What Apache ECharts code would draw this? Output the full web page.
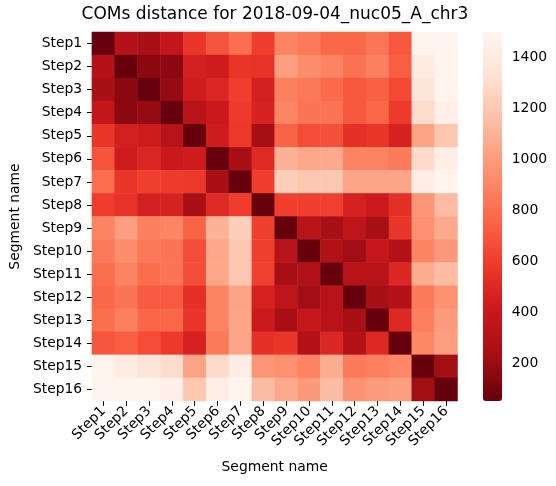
<!DOCTYPE html>
<html>
<head>
<meta charset="utf-8">
<script src="https://cdn.jsdelivr.net/npm/echarts@6/dist/echarts.min.js"></script>
<style>
  html, body { margin: 0; padding: 0; background: #fff; }
  #chart { width: 556px; height: 486px; }
</style>
</head>
<body>
<div id="chart"></div>
<script>
var myChart = echarts.init(document.getElementById('chart'));

// 分段名
var steps = ['Step1', 'Step2', 'Step3', 'Step4', 'Step5', 'Step6', 'Step7', 'Step8',
  'Step9', 'Step10', 'Step11', 'Step12', 'Step13', 'Step14', 'Step15', 'Step16'];

// 距离矩阵, 每行一个 Step
var row1 = [52, 300, 250, 380, 570, 690, 800, 600, 890, 850, 770, 770, 830, 710, 1490, 1495];
var row2 = [300, 52, 160, 160, 450, 430, 560, 550, 1010, 940, 890, 810, 870, 730, 1410, 1490];
var row3 = [250, 160, 52, 190, 430, 490, 610, 450, 870, 840, 780, 710, 740, 650, 1360, 1490];
var row4 = [380, 160, 190, 52, 320, 410, 590, 470, 900, 820, 820, 710, 770, 590, 1300, 1450];
var row5 = [570, 450, 430, 320, 52, 430, 580, 250, 750, 660, 680, 540, 570, 470, 1030, 1190];
var row6 = [690, 430, 490, 410, 430, 52, 250, 510, 1100, 1050, 1060, 890, 890, 850, 1290, 1440];
var row7 = [800, 560, 610, 590, 580, 250, 52, 600, 1230, 1200, 1200, 1040, 1040, 1040, 1435, 1490];
var row8 = [600, 550, 450, 470, 250, 510, 600, 52, 610, 610, 615, 465, 420, 540, 970, 1145];
var row9 = [890, 1010, 870, 900, 750, 1100, 1230, 610, 52, 320, 250, 350, 250, 570, 950, 1060];
var row10 = [850, 940, 840, 820, 660, 1050, 1200, 610, 320, 52, 290, 225, 390, 300, 890, 990];
var row11 = [800, 890, 790, 820, 670, 1050, 1200, 615, 250, 290, 52, 320, 320, 495, 1070, 1150];
var row12 = [770, 820, 720, 715, 535, 890, 1035, 465, 350, 225, 320, 52, 250, 300, 850, 955];
var row13 = [800, 875, 760, 770, 570, 890, 1040, 420, 250, 390, 320, 250, 52, 500, 870, 995];
var row14 = [700, 730, 660, 585, 465, 850, 1040, 540, 570, 300, 495, 300, 500, 52, 910, 1015];
var row15 = [1490, 1410, 1360, 1300, 1030, 1290, 1435, 970, 950, 890, 1070, 850, 870, 910, 52, 220];
var row16 = [1495, 1490, 1490, 1455, 1195, 1440, 1490, 1145, 1060, 990, 1150, 955, 995, 1015, 220, 52];

var rows = [row1, row2, row3, row4, row5, row6, row7, row8,
  row9, row10, row11, row12, row13, row14, row15, row16];

// colorbar 刻度
var barTicks = [200, 400, 600, 800, 1000, 1200, 1400];
var vmin = 52;
var vmax = 1500;

var data = [];
for (let i = 0; i < rows.length; i++) {
  for (let j = 0; j < rows[i].length; j++) {
    data.push([j, i, rows[i][j]]);
  }
}

var font = 'DejaVu Sans';
var txt = '#000';

var option = {
  animation: false,
  title: {
    text: 'COMs distance for 2018-09-04_nuc05_A_chr3',
    left: 275,
    top: 6,
    textAlign: 'center',
    padding: 0,
    textStyle: { fontFamily: font, fontSize: 17, fontWeight: 'normal', color: txt }
  },
  grid: [
    { left: 88.5, top: 32, width: 369, height: 369 },
    { left: 483, top: 32, width: 19, height: 369 }
  ],
  xAxis: [{
    type: 'category',
    data: steps,
    gridIndex: 0,
    name: 'Segment name',
    nameLocation: 'middle',
    nameGap: 59,
    nameTextStyle: { fontFamily: font, fontSize: 13.9, color: txt },
    axisLine: { show: false },
    axisTick: { show: true, alignWithLabel: true, length: 4.9, lineStyle: { color: '#000', width: 1 } },
    axisLabel: { rotate: 45, margin: 8, interval: 0, fontFamily: font, fontSize: 13.9, color: txt },
    splitLine: { show: false }
  }, {
    type: 'value',
    gridIndex: 1,
    show: false
  }],
  yAxis: [{
    type: 'category',
    data: steps,
    inverse: true,
    gridIndex: 0,
    name: 'Segment name',
    nameLocation: 'middle',
    nameGap: 62,
    nameTextStyle: { fontFamily: font, fontSize: 13.9, color: txt },
    axisLine: { show: false },
    axisTick: { show: true, alignWithLabel: true, length: 4.9, lineStyle: { color: '#000', width: 1 } },
    axisLabel: { margin: 9.7, interval: 0, fontFamily: font, fontSize: 13.9, color: txt },
    splitLine: { show: false }
  }, {
    type: 'value',
    gridIndex: 1,
    position: 'right',
    min: vmin,
    max: vmax,
    axisLine: { show: false },
    axisTick: { show: true, customValues: barTicks, length: 4.9, lineStyle: { color: '#000', width: 1 } },
    axisLabel: {
      customValues: barTicks,
      formatter: function (v) { return String(v); },
      margin: 9.7, fontFamily: font, fontSize: 13.9, color: txt
    },
    splitLine: { show: false }
  }],
  visualMap: {
    type: 'continuous',
    min: vmin,
    max: vmax,
    seriesIndex: 0,
    calculable: false,
    orient: 'vertical',
    left: 483,
    top: 32,
    padding: 0,
    itemWidth: 19,
    itemHeight: 369,
    text: null,
    showLabel: false,
    textStyle: { color: 'rgba(0,0,0,0)' },
    inRange: {
      color: ['#67000d', '#a50f15', '#cb181d', '#ef3b2c', '#fb6a4a', '#fc9272', '#fcbba1', '#fee0d2', '#fff5f0']
    }
  },
  series: [{
    type: 'heatmap',
    xAxisIndex: 0,
    yAxisIndex: 0,
    data: data,
    itemStyle: { borderWidth: 0 },
    emphasis: { disabled: true }
  }]
};

myChart.setOption(option);

window.addEventListener('resize', () => {
  myChart.resize();
});
</script>
</body>
</html>
